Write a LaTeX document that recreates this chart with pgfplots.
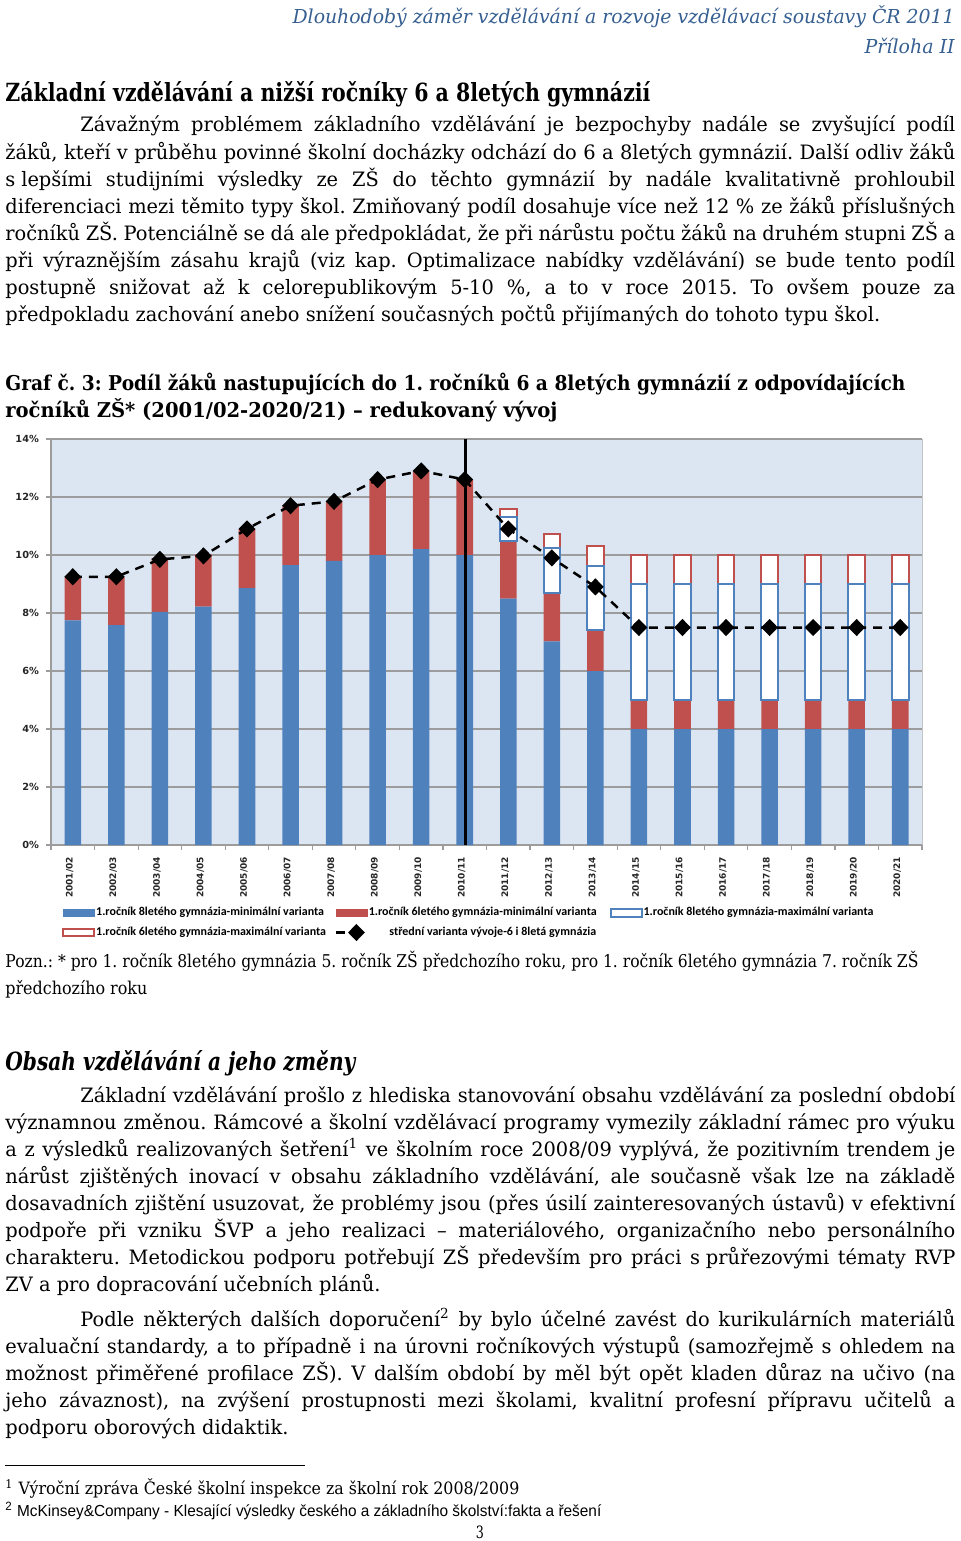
\documentclass[border=0pt]{standalone}
\usepackage{fontspec}
\usepackage{graphicx}
\usepackage{pgfplots}
\pgfplotsset{compat=1.18}
\setmainfont{DejaVu Serif}[FakeStretch=0.98]
\newfontfamily\hdfont{DejaVu Serif}[FakeStretch=0.75]
\newfontfamily\sansfn{Liberation Sans}
\newfontfamily\tickfont{DejaVu Sans}
\newfontfamily\legfont{Carlito}
\definecolor{myblue}{HTML}{4F81BD}
\definecolor{myred}{HTML}{C0504D}
\definecolor{bgblue}{HTML}{DCE6F2}
\definecolor{hdblue}{HTML}{365F91}
\definecolor{gridgray}{HTML}{9C9C9C}
\pgfplotsset{
  common/.style={at={(axorig)}, anchor=south west, scale only axis,
    width=435.5pt, height=203pt, xmin=-0.5, xmax=19.5, ymin=0, ymax=14},
  boxlegend/.style={legend image code/.code={\draw[##1] (0pt,-1.9pt) rectangle (15.5pt,1.9pt);}},
  linelegend/.style={legend image code/.code={\draw[mark repeat=2,mark phase=2,##1] plot coordinates {(0pt,0pt)(10pt,0pt)(15pt,0pt)};}},
}
\frenchspacing
\newcommand{\bodyf}{\fontsize{9.9pt}{13.5pt}\selectfont}
\newcommand{\J}[2]{\node[anchor=base west,inner sep=0pt] at (5,#1) {\bodyf\makebox[475pt][s]{#2}};}
\newcommand{\JI}[2]{\node[anchor=base west,inner sep=0pt] at (80,#1) {\bodyf\makebox[437.5pt][s]{#2}};}
\newcommand{\JL}[2]{\node[anchor=base west,inner sep=0pt] at (5,#1) {\bodyf #2};}
\begin{document}
\begin{tikzpicture}[x=0.5pt,y=-0.5pt]
\path[use as bounding box] (0,0) rectangle (960,1541);
\coordinate (axorig) at (51,845);
% header
\node[anchor=base east,inner sep=0pt,text=hdblue] at (955,24) {\resizebox{331pt}{\height}{\hdfont\itshape\fontsize{9.6pt}{11pt}\selectfont Dlouhodobý záměr vzdělávání a rozvoje vzdělávací soustavy ČR 2011}};
\node[anchor=base east,inner sep=0pt,text=hdblue] at (955,54) {\resizebox{45pt}{\height}{\hdfont\itshape\fontsize{9.6pt}{11pt}\selectfont Příloha II}};
\node[anchor=base west,inner sep=0pt] at (5,101) {\resizebox{322.5pt}{\height}{\hdfont\bfseries\fontsize{12.5pt}{14pt}\selectfont Základní vzdělávání a nižší ročníky 6 a 8letých gymnázií}};
% paragraph 1
\JI{132}{Závažným problémem základního vzdělávání je bezpochyby nadále se zvyšující podíl}
\J{159.1}{žáků, kteří v průběhu povinné školní docházky odchází do 6 a 8letých gymnázií. Další odliv žáků}
\J{186.2}{s\hspace{.3em}lepšími studijními výsledky ze ZŠ do těchto gymnázií by nadále kvalitativně prohloubil}
\J{213.3}{diferenciaci mezi těmito typy škol. Zmiňovaný podíl dosahuje více než 12 \% ze žáků příslušných}
\J{240.4}{ročníků ZŠ. Potenciálně se dá ale předpokládat, že při nárůstu počtu žáků na druhém stupni ZŠ a}
\J{267.5}{při výraznějším zásahu krajů (viz kap. Optimalizace nabídky vzdělávání) se bude tento podíl}
\J{294.6}{postupně snižovat až k celorepublikovým 5-10 \%, a to v roce 2015. To ovšem pouze za}
\JL{321.7}{předpokladu zachování anebo snížení současných počtů přijímaných do tohoto typu škol.}
% graph title
\node[anchor=base west,inner sep=0pt] at (5,390) {\resizebox{450pt}{\height}{\hdfont\bfseries\fontsize{10.2pt}{12pt}\selectfont Graf č. 3: Podíl žáků nastupujících do 1. ročníků 6 a 8letých gymnázií z odpovídajících}};
\node[anchor=base west,inner sep=0pt] at (5,417) {\resizebox{276pt}{\height}{\hdfont\bfseries\fontsize{10.2pt}{12pt}\selectfont ročníků ZŠ* (2001/02-2020/21) – redukovaný vývoj}};
% axis 1: blue and red bars
\begin{axis}[common,
  ybar stacked, bar width=0.38,
  axis background/.style={fill=bgblue, draw=gridgray!60},
  axis x line*=bottom, axis y line*=left,
  axis line style={draw=gridgray, line width=0.6pt},
  ymajorgrids, grid style={draw=gridgray, line width=0.6pt},
  ytick={0,2,...,14}, yticklabels={0\%,2\%,4\%,6\%,8\%,10\%,12\%,14\%},
  yticklabel style={font=\tickfont\bfseries\fontsize{4.9pt}{6pt}\selectfont, text=black!85},
  xtick={0,...,19},
  xticklabels={2001/02,2002/03,2003/04,2004/05,2005/06,2006/07,2007/08,2008/09,2009/10,2010/11,2011/12,2012/13,2013/14,2014/15,2015/16,2016/17,2017/18,2018/19,2019/20,2020/21},
  xticklabel style={rotate=90, anchor=east, yshift=1.5pt, font=\tickfont\bfseries\fontsize{4.5pt}{5.5pt}\selectfont, text=black!85},
  major x tick style={draw=none},
  minor xtick={-0.5,0.5,...,19.5},
  tick align=outside, major tick length=2.5pt, minor tick length=2.5pt,
  tick style={draw=gridgray, line width=0.6pt},
]
\addplot[fill=myblue, draw=none] coordinates {(0,7.75) (1,7.58) (2,8.04) (3,8.22) (4,8.86) (5,9.65) (6,9.8) (7,10.0) (8,10.2) (9,10.0) (10,8.5) (11,7.02) (12,6.0) (13,4.0) (14,4.0) (15,4.0) (16,4.0) (17,4.0) (18,4.0) (19,4.0)};
\addplot[fill=myred, draw=none] coordinates {(0,1.5) (1,1.67) (2,1.85) (3,1.8) (4,2.04) (5,2.07) (6,2.07) (7,2.59) (8,2.7) (9,2.59) (10,1.98) (11,1.66) (12,1.41) (13,1.0) (14,1.0) (15,1.0) (16,1.0) (17,1.0) (18,1.0) (19,1.0)};
\end{axis}
% axis 2: maximal variant boxes
\begin{axis}[common, hide axis, ybar stacked, bar width=0.38]
\addplot[draw=none, fill=none] coordinates {(10,10.48) (11,8.68) (12,7.41) (13,5.0) (14,5.0) (15,5.0) (16,5.0) (17,5.0) (18,5.0) (19,5.0)};
\addplot[fill=white, draw=myblue, line width=1pt] coordinates {(10,0.82) (11,1.55) (12,2.21) (13,4.0) (14,4.0) (15,4.0) (16,4.0) (17,4.0) (18,4.0) (19,4.0)};
\addplot[fill=white, draw=myred, line width=1pt] coordinates {(10,0.3) (11,0.48) (12,0.69) (13,1.0) (14,1.0) (15,1.0) (16,1.0) (17,1.0) (18,1.0) (19,1.0)};
\end{axis}
% axis 3: middle variant line, divider, legend
\begin{axis}[common, hide axis,
  legend columns=3,
  legend style={at={(axis description cs:0.0126,-0.150)}, anchor=north west, draw=none, fill=none,
    inner sep=0pt, row sep=3pt, nodes={inner sep=0.5pt},
    font=\legfont\bfseries\fontsize{6pt}{7pt}\selectfont},
]
\addlegendimage{boxlegend, fill=myblue, draw=myblue}
\addlegendentry{\makebox[119pt][l]{1.ročník 8letého gymnázia-minimální varianta}}
\addlegendimage{boxlegend, fill=myred, draw=myred}
\addlegendentry{\makebox[120pt][l]{1.ročník 6letého gymnázia-minimální varianta}}
\addlegendimage{boxlegend, fill=white, draw=myblue, line width=0.9pt}
\addlegendentry{1.ročník 8letého gymnázia-maximální varianta}
\addlegendimage{boxlegend, fill=white, draw=myred, line width=0.9pt}
\addlegendentry{\makebox[119pt][l]{1.ročník 6letého gymnázia-maximální varianta}}
\addplot[black, line width=1.25pt, dash pattern=on 4.5pt off 3.5pt, mark=diamond*, mark size=3.4pt,
  mark options={solid, xscale=1.3}, linelegend] coordinates {(0,9.25) (1,9.25) (2,9.85) (3,9.97) (4,10.9) (5,11.7) (6,11.85) (7,12.6) (8,12.9) (9,12.6) (10,10.9) (11,9.9) (12,8.9) (13,7.5) (14,7.5) (15,7.5) (16,7.5) (17,7.5) (18,7.5) (19,7.5)};
\addlegendentry{\hspace{4pt}střední varianta vývoje-6 i 8letá gymnázia}
\addplot[black, line width=1.2pt, forget plot] coordinates {(9.02,0) (9.02,14)};
\end{axis}
% note
\node[anchor=base west,inner sep=0pt] at (5,967) {\resizebox{456.5pt}{\height}{\hdfont\fontsize{8.8pt}{10pt}\selectfont Pozn.: * pro 1. ročník 8letého gymnázia 5. ročník ZŠ předchozího roku, pro 1. ročník 6letého gymnázia 7. ročník ZŠ}};
\node[anchor=base west,inner sep=0pt] at (5,994) {\resizebox{71pt}{\height}{\hdfont\fontsize{8.8pt}{10pt}\selectfont předchozího roku}};
\node[anchor=base west,inner sep=0pt] at (5,1070) {\resizebox{175pt}{\height}{\hdfont\bfseries\itshape\fontsize{12.5pt}{14pt}\selectfont Obsah vzdělávání a jeho změny}};
% paragraph 2
\JI{1102}{Základní vzdělávání prošlo z hlediska stanovování obsahu vzdělávání za poslední období}
\J{1129.1}{významnou změnou. Rámcové a školní vzdělávací programy vymezily základní rámec pro výuku}
\J{1156.2}{a z výsledků realizovaných šetření\textsuperscript{1} ve školním roce 2008/09 vyplývá, že pozitivním trendem je}
\J{1183.3}{nárůst zjištěných inovací v obsahu základního vzdělávání, ale současně však lze na základě}
\J{1210.4}{dosavadních zjištění usuzovat, že problémy jsou (přes úsilí zainteresovaných ústavů) v efektivní}
\J{1237.5}{podpoře při vzniku ŠVP a jeho realizaci – materiálového, organizačního nebo personálního}
\J{1264.6}{charakteru. Metodickou podporu potřebují ZŠ především pro práci s\hspace{.3em}průřezovými tématy RVP}
\JL{1291.7}{ZV a pro dopracování učebních plánů.}
% paragraph 3
\JI{1326}{Podle některých dalších doporučení\textsuperscript{2} by bylo účelné zavést do kurikulárních materiálů}
\J{1353.1}{evaluační standardy, a to případně i na úrovni ročníkových výstupů (samozřejmě s ohledem na}
\J{1380.2}{možnost přiměřené profilace ZŠ). V dalším období by měl být opět kladen důraz na učivo (na}
\J{1407.3}{jeho závaznost), na zvýšení prostupnosti mezi školami, kvalitní profesní přípravu učitelů a}
\JL{1434.4}{podporu oborových didaktik.}
% footnotes
\draw[line width=0.5pt] (5,1465) -- (305,1465);
\node[anchor=base west,inner sep=0pt] at (5,1494) {\resizebox{257pt}{\height}{\hdfont\fontsize{8.5pt}{10pt}\selectfont \textsuperscript{1} Výroční zpráva České školní inspekce za školní rok 2008/2009}};
\node[anchor=base west,inner sep=0pt] at (5,1516) {\resizebox{298pt}{\height}{\sansfn\fontsize{8pt}{9pt}\selectfont \textsuperscript{2} McKinsey\&Company - Klesající výsledky českého a základního školství:fakta a řešení}};
\node[anchor=base,inner sep=0pt] at (480,1538) {\hdfont\fontsize{8.5pt}{10pt}\selectfont 3};
\end{tikzpicture}
\end{document}
